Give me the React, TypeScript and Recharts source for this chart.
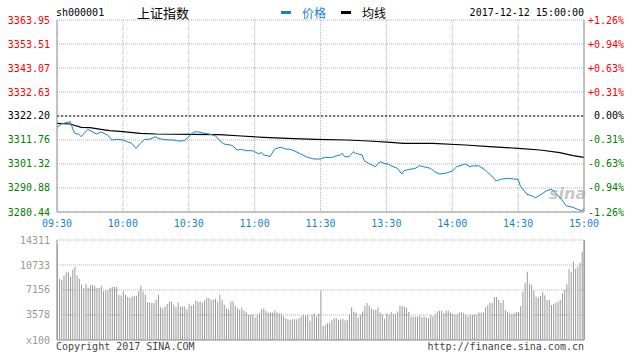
import React from 'react';
import { ComposedChart, BarChart, Line, Bar, XAxis, YAxis, CartesianGrid, ReferenceLine } from 'recharts';

const PRE_CLOSE = 3322.2;
const timeTicks = [0, 30, 60, 90, 120, 150, 180, 210, 240];
const timeLabels = ['09:30', '10:00', '10:30', '11:00', '11:30', '13:30', '14:00', '14:30', '15:00'];
const priceTicks = [3280.44, 3290.88, 3301.32, 3311.76, 3322.2, 3332.63, 3343.07, 3353.51, 3363.95];
const pctLabels = ['-1.26%', '-0.94%', '-0.63%', '-0.31%', '0.00%', '+0.31%', '+0.63%', '+0.94%', '+1.26%'];
const volTicks = [0, 3578, 7156, 10733, 14311];
const volLabels = ['x100', '3578', '7156', '10733', '14311'];

const priceMinutes = [0, 2, 4, 6, 8, 10, 11, 14, 16, 18, 20, 23, 25, 27, 30, 32, 34, 36, 38, 40, 42, 45, 46, 48, 51, 53, 55, 58, 60, 62, 64, 67, 69, 72, 74, 76, 79, 80, 82, 84, 86, 89, 90, 92, 93, 94, 96, 97, 99, 101, 102, 104, 106, 108, 111, 114, 117, 120, 122, 125, 127, 129, 130, 131, 133, 135, 136, 139, 140, 142, 145, 147, 149, 151, 152, 155, 157, 158, 160, 163, 165, 167, 170, 172, 174, 177, 180, 182, 186, 188, 189, 192, 195, 198, 200, 202, 205, 208, 210, 211, 214, 216, 218, 220, 223, 225, 226, 228, 230, 232, 235, 237, 239, 240];
const priceValues = [3317.28, 3318.71, 3319.28, 3319.71, 3314.67, 3314.24, 3313.19, 3316.41, 3315.37, 3314.37, 3315.24, 3313.93, 3311.76, 3312.06, 3311.76, 3311.02, 3310.32, 3308.15, 3310.32, 3312.06, 3312.06, 3313.19, 3312.5, 3312.06, 3311.76, 3311.76, 3311.32, 3311.45, 3313.19, 3315.11, 3315.37, 3314.67, 3314.37, 3313.72, 3311.54, 3310.02, 3309.58, 3309.28, 3307.41, 3307.71, 3307.1, 3307.1, 3306.67, 3305.67, 3306.41, 3305.24, 3304.93, 3304.5, 3307.71, 3308.41, 3308.58, 3307.84, 3307.71, 3307.1, 3305.67, 3304.23, 3303.49, 3303.49, 3304.23, 3304.06, 3304.8, 3305.24, 3305.97, 3304.5, 3304.5, 3306.67, 3305.97, 3305.24, 3302.62, 3301.62, 3300.14, 3302.32, 3301.62, 3301.19, 3300.58, 3299.45, 3296.97, 3298.4, 3298.92, 3299.36, 3300.58, 3300.14, 3299.45, 3297.97, 3296.97, 3297.27, 3298.27, 3300.14, 3301.32, 3300.14, 3300.45, 3300.58, 3298.71, 3296.1, 3293.92, 3294.66, 3295.1, 3294.8, 3294.66, 3291.75, 3288.14, 3287.53, 3286.66, 3287.83, 3289.7, 3290.31, 3289.7, 3287.83, 3285.66, 3283.05, 3282.48, 3281.61, 3280.87, 3282.04];

const avgMinutes = [0, 6, 11, 15, 20, 24, 30, 38, 45, 61, 74, 84, 94, 105, 118, 132, 142, 152, 158, 171, 186, 197, 210, 220, 229, 235, 240];
const avgValues = [3319.02, 3318.71, 3317.28, 3317.11, 3316.41, 3315.8, 3315.37, 3314.67, 3314.37, 3314.24, 3314.06, 3313.5, 3312.93, 3312.5, 3312.06, 3311.76, 3311.32, 3310.75, 3310.32, 3310.32, 3309.58, 3308.84, 3308.15, 3307.41, 3306.24, 3304.93, 3304.23];

const volumes = [
  13680, 8784, 8640, 9216, 9700, 9700, 9024, 10080, 10464, 9216, 8736, 7920, 7440, 8016, 7440, 7824, 7920, 7776, 7440, 7440, 7776, 6960, 7104, 7104, 7440, 7632, 7632, 7632, 6480, 6384,
  6960, 6480, 6144, 6000, 6240, 6336, 6336, 6960, 7776, 6960, 6480, 5376,
  5376, 5280, 5280, 5760, 6480, 4704, 4560, 4800, 5136, 5520, 5520, 5040, 4704, 5376, 4800, 4800, 4800, 4416,
  5184, 4896, 5040, 5664, 5520, 5520, 5280, 5664, 6000, 6000, 5760, 5760, 5856, 5520, 6480, 5760, 5040, 4560, 4416, 5520,
  5520, 4896, 4560, 4320, 4656, 4224, 4032, 3600, 3600, 3600,
  3216, 3600, 3840, 4416, 4560, 4176, 3936, 3936, 3936, 4224, 3936, 3840, 3744, 3360, 3120, 2976, 2880, 2976, 2976, 2976,
  3120, 3360, 3600, 3504, 3600, 2784, 3600, 3744, 3360, 3744,
  7104,
  2016, 2160, 2400, 2496, 2880, 3120, 3120, 2880, 2976, 3024, 2784, 2880, 3600, 4704, 4032, 3936, 3216, 3600, 4080, 4896,
  5280, 4896, 4512, 4320, 4320, 4704, 3936, 3600, 3024, 3840, 3600, 4032, 3744, 3744, 4080, 4896, 4896, 4800, 4608, 4032,
  3360, 3312, 3312, 3360, 3456, 3264, 3360, 3264, 3120, 3552, 3360, 3600, 4080, 4176, 4176, 3840, 4224, 4224, 3936, 3744,
  3600, 3696, 3936, 3936, 3840, 3600, 3360, 3504, 3600, 3600, 3600, 3936, 3936, 3936, 4704, 5040, 5376, 5280,
  6154, 6154, 5724, 5343, 5724, 4293, 4007, 3816, 3673, 3816, 4007, 4007, 4866, 6869, 8205, 9779, 8062, 7871, 7013, 6202,
  6058, 6297, 6869, 6392, 5724, 5724, 5009, 5200, 5343, 5486, 5724, 6678, 7156, 7966, 10113, 9779, 11210, 10208, 10447, 11067,
  12641, 14311,
];

const data = volumes.map((v, t) => {
  const pi = priceMinutes.indexOf(t);
  const ai = avgMinutes.indexOf(t);
  return {
    t,
    vol: v,
    price: pi >= 0 ? priceValues[pi] : null,
    avg: ai >= 0 ? avgValues[ai] : null,
  };
});

const MONO = '"DejaVu Sans Mono", monospace';
const CJK = '"Noto Sans CJK SC", sans-serif';
const BORDER = '#999';
const GRID = '#b4b4b4';
const BLUE = '#1a7fd3';

const priceColor = (v: number) =>
  v > PRE_CLOSE + 0.001 ? '#ff0000' : v < PRE_CLOSE - 0.001 ? '#008000' : '#000';

const LeftPriceTick = (p: any) => {
  const v = p.payload.value;
  return (
    <text x={p.x} y={p.y} dy="0.35em" textAnchor="end" fill={priceColor(v)} fontSize={10} fontFamily={MONO}>
      {v.toFixed(2)}
    </text>
  );
};

const RightPctTick = (p: any) => {
  const v = p.payload.value;
  const idx = priceTicks.indexOf(v);
  return (
    <text x={p.x + 40} y={p.y} dy="0.35em" textAnchor="end" fill={priceColor(v)} fontSize={10} fontFamily={MONO}>
      {pctLabels[idx]}
    </text>
  );
};

const VolTick = (p: any) => {
  const v = p.payload.value;
  const idx = volTicks.indexOf(v);
  return (
    <text x={p.x} y={p.y} dy="0.35em" textAnchor="end" fill="#999" fontSize={10} fontFamily={MONO}>
      {volLabels[idx]}
    </text>
  );
};

const TimeTick = (p: any) => {
  const idx = timeTicks.indexOf(p.payload.value);
  return (
    <text x={p.x} y={p.y} dy="0.71em" textAnchor="middle" fill={BLUE} fontSize={10} fontFamily={MONO}>
      {timeLabels[idx]}
    </text>
  );
};

export default function App() {
  return (
    <div style={{ position: 'absolute', left: 0, top: 0, width: 635, height: 361, background: '#fff', overflow: 'hidden' }}>
      {/* header */}
      <div style={{ position: 'absolute', left: 56, top: 7, height: 12, lineHeight: '12px', fontSize: 10, fontFamily: MONO, color: '#000' }}>
        sh000001
      </div>
      <div style={{ position: 'absolute', left: 137, top: 4, height: 18, lineHeight: '18px', fontSize: 13, fontFamily: CJK, color: '#000' }}>
        上证指数
      </div>
      <div style={{ position: 'absolute', left: 281, top: 11, width: 10, height: 3, background: BLUE }} />
      <div style={{ position: 'absolute', left: 302, top: 5, height: 16, lineHeight: '16px', fontSize: 12, fontFamily: CJK, color: BLUE }}>
        价格
      </div>
      <div style={{ position: 'absolute', left: 341, top: 11, width: 10, height: 3, background: '#000' }} />
      <div style={{ position: 'absolute', left: 362, top: 5, height: 16, lineHeight: '16px', fontSize: 12, fontFamily: CJK, color: '#000' }}>
        均线
      </div>
      <div style={{ position: 'absolute', right: 51, top: 7, height: 12, lineHeight: '12px', fontSize: 10, fontFamily: MONO, color: '#000' }}>
        2017-12-12 15:00:00
      </div>

      {/* watermark */}
      <div style={{ position: 'absolute', left: 549, top: 185, fontSize: 16, lineHeight: '18px', fontStyle: 'italic', fontWeight: 'bold', fontFamily: '"DejaVu Sans", sans-serif', color: 'rgba(150,150,150,0.55)' }}>
        sina
      </div>

      {/* price chart */}
      <div style={{ position: 'absolute', left: 0, top: 0 }}>
        <ComposedChart width={635} height={236} data={data} margin={{ top: 20, right: 0, bottom: 0, left: 0 }}>
          <CartesianGrid stroke={GRID} strokeDasharray="1 1" />
          <XAxis
            dataKey="t"
            type="number"
            domain={[0, 240]}
            ticks={timeTicks}
            interval={0}
            height={24}
            tickSize={0}
            tickMargin={8}
            tickLine={false}
            axisLine={{ stroke: BORDER }}
            tick={<TimeTick />}
          />
          <XAxis xAxisId="top" orientation="top" dataKey="t" type="number" domain={[0, 240]} height={0} tick={false} tickLine={false} axisLine={{ stroke: BORDER }} />
          <YAxis
            domain={[priceTicks[0], priceTicks[priceTicks.length - 1]]}
            ticks={priceTicks}
            interval={0}
            width={57}
            tickSize={0}
            tickMargin={7}
            tickLine={false}
            axisLine={{ stroke: BORDER }}
            tick={<LeftPriceTick />}
            allowDataOverflow
          />
          <YAxis
            yAxisId="r"
            orientation="right"
            domain={[priceTicks[0], priceTicks[priceTicks.length - 1]]}
            ticks={priceTicks}
            interval={0}
            width={51}
            tickSize={0}
            tickMargin={0}
            tickLine={false}
            axisLine={{ stroke: BORDER }}
            tick={<RightPctTick />}
            allowDataOverflow
          />
          <ReferenceLine y={PRE_CLOSE} stroke="#000" strokeDasharray="2 2" />
          <Line type="linear" dataKey="avg" stroke="#000" strokeWidth={1.2} dot={false} connectNulls isAnimationActive={false} />
          <Line type="linear" dataKey="price" stroke={BLUE} strokeWidth={1} dot={false} connectNulls isAnimationActive={false} />
        </ComposedChart>
      </div>

      {/* volume chart */}
      <div style={{ position: 'absolute', left: 0, top: 236 }}>
        <BarChart width={635} height={125} data={data} margin={{ top: 4, right: 0, bottom: 0, left: 0 }}>
          <CartesianGrid stroke={GRID} strokeDasharray="1 1" />
          <XAxis
            dataKey="t"
            type="number"
            domain={[0, 240]}
            ticks={timeTicks}
            interval={0}
            height={21}
            tick={false}
            tickLine={false}
            axisLine={{ stroke: BORDER }}
          />
          <XAxis xAxisId="top" orientation="top" dataKey="t" type="number" domain={[0, 240]} height={0} tick={false} tickLine={false} axisLine={{ stroke: BORDER }} />
          <YAxis
            domain={[0, volTicks[volTicks.length - 1]]}
            ticks={volTicks}
            interval={0}
            width={57}
            tickSize={0}
            tickMargin={7}
            tickLine={false}
            axisLine={{ stroke: BORDER }}
            tick={<VolTick />}
          />
          <YAxis yAxisId="r" orientation="right" width={51} tick={false} tickLine={false} axisLine={{ stroke: BORDER }} />
          <Bar dataKey="vol" fill="#999" barSize={1} isAnimationActive={false} />
        </BarChart>
      </div>

      {/* footer */}
      <div style={{ position: 'absolute', left: 56, top: 341, height: 12, lineHeight: '12px', fontSize: 10, fontFamily: MONO, color: '#444' }}>
        Copyright 2017 SINA.COM
      </div>
      <div style={{ position: 'absolute', right: 51, top: 341, height: 12, lineHeight: '12px', fontSize: 10, fontFamily: MONO, color: '#444' }}>
        http://finance.sina.com.cn
      </div>
    </div>
  );
}
